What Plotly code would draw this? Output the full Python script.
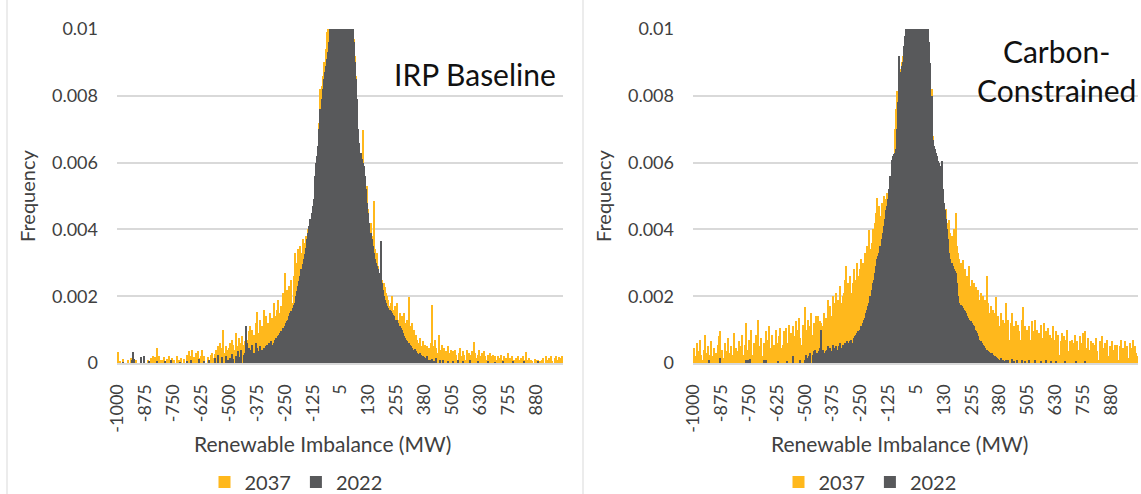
import plotly.graph_objects as go

# ---------------- data (frequency values in units of 1e-5) ----------------
# bins: -1000 ... -5 and 5 ... 1000 (5 MW steps), 400 categories
bins = [str(v) for v in range(-1000, 0, 5)] + [str(v) for v in range(5, 1001, 5)]
tick_labels = ["-1000", "-875", "-750", "-625", "-500", "-375", "-250", "-125",
               "5", "130", "255", "380", "505", "630", "755", "880"]
y_ticks = [0, 0.002, 0.004, 0.006, 0.008, 0.01]
y_ticktext = ["0", "0.002", "0.004", "0.006", "0.008", "0.01"]

irp_2037 = [
    34,0,5,0,0,12,0,0,0,8,0,0,15,0,20,0,0,10,0,0,
    0,12,0,0,18,0,0,10,0,0,15,8,22,0,18,44,12,20,10,0,
    10,0,18,0,12,0,20,0,0,15,0,10,0,22,0,8,0,14,0,0,
    12,0,25,0,35,10,20,38,0,18,30,0,36,15,0,22,38,10,20,0,
    0,18,0,10,25,30,15,28,40,20,50,35,60,25,45,99,30,50,20,40,
    45,60,35,70,55,40,90,50,30,75,60,45,80,55,65,85,50,70,95,110,
    70,100,85,60,120,154,90,75,130,95,110,160,80,140,100,120,90,150,115,135,
    180,140,120,160,190,150,130,170,210,160,269,190,220,170,230,200,250,180,260,329,
    300,280,340,320,349,330,370,360,340,380,379,400,390,420,410,440,479,520,560,600,
    629,720,819,830,860,900,880,940,990,1010,1040,1080,1120,1150,1190,1230,1280,1320,1360,1380,
    1390,1380,1360,1340,1300,1260,1220,1170,1120,1070,1030,1000,969,920,860,760,689,640,600,580,
    699,560,540,480,529,460,400,420,380,360,484,340,300,329,290,270,350,250,230,239,
    229,210,200,190,170,180,200,160,150,170,140,179,130,150,120,140,110,149,100,120,
    130,199,110,90,119,80,100,70,85,69,60,75,50,45,65,40,55,35,50,45,
    40,60,174,50,35,70,45,30,84,40,25,55,30,45,20,35,50,25,30,40,
    20,35,15,40,25,10,30,45,20,15,35,25,10,40,20,30,15,25,35,20,
    64,30,15,25,40,20,10,30,15,35,20,10,25,15,30,20,10,25,15,20,
    10,20,0,15,25,10,0,20,15,10,30,0,15,10,20,0,10,15,0,20,
    10,0,15,0,20,10,34,0,10,15,0,10,5,0,12,0,8,10,0,5,
    0,10,15,0,20,10,0,15,10,20,5,0,15,20,10,0,18,10,15,20,
]

irp_2022 = [
    0,0,0,0,0,3,0,0,0,0,0,0,0,8,34,12,0,0,0,0,
    0,18,0,0,22,0,0,0,5,0,0,0,0,0,0,6,0,0,0,0,
    0,0,0,4,0,0,0,0,10,0,0,0,0,0,0,0,3,0,0,0,
    0,0,5,0,0,0,8,0,0,0,0,0,0,12,0,0,0,0,6,0,
    0,0,9,0,0,0,0,14,0,0,25,0,0,0,18,0,0,22,0,10,
    0,15,0,28,12,0,20,0,35,10,18,40,0,25,30,110,60,20,45,30,
    40,55,30,25,60,45,20,35,50,30,40,45,35,50,55,40,60,50,65,55,
    60,70,75,65,80,85,90,95,105,100,110,120,125,130,140,150,155,165,175,180,
    200,215,230,245,260,280,295,310,325,345,370,390,410,430,450,470,490,560,600,620,
    650,700,760,790,820,850,870,890,910,930,960,1050,1100,1150,1200,1250,1300,1350,1400,1420,
    1430,1420,1400,1380,1350,1300,1250,1200,1150,1100,1050,1010,960,900,850,790,700,660,630,610,
    600,590,560,520,480,450,420,390,370,350,330,310,300,290,280,270,364,240,220,200,
    190,180,170,165,160,155,150,145,140,130,125,130,120,110,105,100,90,80,75,70,
    65,60,55,50,45,40,38,42,35,30,28,30,25,20,22,18,15,12,20,10,
    8,0,12,0,5,0,15,0,0,8,0,0,10,0,0,0,6,0,0,0,
    0,5,0,0,0,10,0,0,0,0,4,0,0,0,0,0,8,0,0,0,
    0,0,0,6,0,0,0,0,0,0,0,0,5,0,0,0,0,0,0,3,
    0,0,0,0,0,0,7,0,0,0,0,0,0,0,0,4,0,0,0,0,
    0,0,0,0,0,5,0,0,0,0,0,0,0,0,0,0,0,6,0,0,
    0,0,0,0,0,0,0,0,0,0,0,0,0,0,0,0,0,0,0,0,
]

cc_2037 = [
    45,20,10,60,15,35,70,25,8,40,85,30,12,50,25,10,65,20,45,15,
    30,10,55,80,95,20,40,15,60,35,10,75,30,5,50,25,90,20,45,30,
    35,65,15,50,85,25,55,119,40,20,70,45,100,25,60,30,85,20,129,50,
    40,75,20,60,45,95,25,70,110,45,30,85,55,20,100,60,35,80,105,45,
    55,95,35,105,60,40,115,65,90,110,45,80,125,50,100,135,75,55,115,85,
    169,100,80,130,90,110,150,85,120,95,140,105,140,90,125,120,110,150,100,135,
    130,189,150,170,140,200,160,180,209,150,190,170,230,180,200,210,250,289,220,240,
    230,260,210,240,280,250,220,300,260,250,280,310,300,270,330,290,350,320,399,340,
    360,400,380,420,450,494,430,470,440,480,450,500,460,490,510,480,519,560,590,600,
    620,700,760,814,800,850,880,900,920,950,980,1050,1100,1150,1200,1250,1300,1350,1400,1420,
    1430,1420,1400,1380,1350,1300,1250,1200,1150,1100,1050,1010,960,880,820,680,649,620,600,580,
    560,540,520,480,509,470,440,460,420,400,429,390,380,360,400,370,449,350,330,310,
    300,290,309,270,280,250,260,240,289,230,250,220,240,210,229,200,220,190,210,180,
    200,170,190,160,259,180,150,170,140,160,130,150,199,120,140,110,150,120,130,100,
    120,179,80,130,70,120,150,60,110,85,125,55,115,95,70,130,169,65,110,80,
    100,55,110,70,125,45,95,129,60,100,40,90,115,55,75,120,50,95,60,105,
    85,40,75,110,30,70,95,35,85,25,65,90,40,80,20,70,100,35,65,45,
    70,25,60,85,20,65,40,80,15,60,90,30,95,45,20,75,40,65,15,60,
    55,15,75,35,10,65,30,80,45,10,60,25,70,20,50,15,65,40,20,55,
    35,55,10,50,70,20,45,10,65,30,50,15,60,25,45,70,15,50,30,20,
]

cc_2022 = [
    0,0,0,0,0,0,0,0,0,0,0,0,0,0,10,0,0,0,0,0,
    0,0,0,0,15,0,0,0,0,0,0,0,0,0,0,0,0,0,0,0,
    0,0,0,0,0,0,0,10,0,8,0,12,0,0,0,0,0,0,0,0,
    0,0,0,8,0,10,0,0,0,0,0,0,0,0,0,0,6,0,0,0,
    0,0,0,0,5,0,0,0,0,20,0,0,0,0,0,0,8,0,0,0,
    10,25,0,15,20,30,0,25,35,40,20,30,15,35,45,100,40,30,25,35,
    40,50,30,45,35,55,25,45,50,40,35,50,60,45,55,50,60,55,65,60,
    55,65,70,60,75,80,85,90,95,90,100,110,120,130,135,150,160,170,180,200,
    220,239,250,270,290,310,320,329,350,370,390,410,430,459,470,490,520,560,609,620,
    625,630,640,700,780,919,870,889,900,950,980,1050,1100,1150,1200,1250,1300,1350,1400,1420,
    1430,1420,1400,1380,1350,1300,1250,1200,1150,1100,1050,1010,960,899,800,669,650,640,630,620,
    604,600,590,604,520,480,459,430,400,370,329,310,300,290,280,275,269,240,200,179,
    175,170,165,160,155,150,140,135,129,125,120,115,110,100,95,90,80,69,65,60,
    55,50,45,40,38,35,32,30,29,25,22,20,18,15,12,10,15,8,10,5,
    0,10,0,8,0,0,12,0,5,0,0,10,0,0,0,8,0,0,6,0,
    0,0,8,0,0,0,0,10,0,0,0,0,6,0,0,0,0,8,0,0,
    0,5,0,0,0,0,7,0,0,0,0,0,0,0,5,0,0,0,0,0,
    0,0,0,0,6,0,0,0,0,0,0,0,4,0,0,0,0,0,0,0,
    0,0,0,0,0,0,0,0,0,0,0,0,0,0,0,0,0,0,0,0,
    0,0,0,0,0,0,0,0,0,0,0,0,0,0,0,0,0,0,0,0,
]

for s in (irp_2037, irp_2022, cc_2037, cc_2022):
    assert len(s) == len(bins), len(s)

# ---------------- figure ----------------
W, H = 1141, 494
def px(x): return x / W
def py(y): return 1 - y / H

FONT = "Lato, 'Open Sans', sans-serif"
ORANGE = "#FFB81C"
GREY = "#58595B"
TXT = "#404040"

fig = go.Figure()
panels = [("x", "y", "legend", irp_2037, irp_2022),
          ("x2", "y2", "legend2", cc_2037, cc_2022)]
for xa, ya, lg, s37, s22 in panels:
    fig.add_trace(go.Bar(x=bins, y=[v / 1e5 for v in s37], name="2037",
                         marker=dict(color=ORANGE, line=dict(width=0)),
                         xaxis=xa, yaxis=ya, legend=lg))
    fig.add_trace(go.Bar(x=bins, y=[v / 1e5 for v in s22], name="2022",
                         marker=dict(color=GREY, line=dict(width=0)),
                         xaxis=xa, yaxis=ya, legend=lg))

xcommon = dict(type="category", range=[-0.5, len(bins) - 0.5],
               tickmode="array", tickvals=tick_labels, ticktext=tick_labels,
               tickangle=-90, tickfont=dict(family=FONT, size=18, color=TXT),
               showgrid=False, showline=True, linecolor="#D9D9D9", linewidth=2,
               ticks="", ticklabelstandoff=12, zeroline=False, automargin=False,
               fixedrange=True)
ycommon = dict(range=[0, 0.01], tickmode="array", tickvals=y_ticks, ticktext=y_ticktext,
               tickfont=dict(family=FONT, size=18, color=TXT),
               showgrid=True, gridcolor="#D9D9D9", gridwidth=1.5,
               showline=False, zeroline=False, ticks="", ticklabelstandoff=18,
               automargin=False, fixedrange=True)

legcommon = dict(orientation="h", xref="container", yref="container",
                 xanchor="center", y=py(482), yanchor="middle",
                 font=dict(family=FONT, size=20, color=TXT), bgcolor="rgba(0,0,0,0)",
                 itemwidth=30)

ydom = [py(363), py(29)]
fig.update_layout(
    width=W, height=H, autosize=False,
    margin=dict(l=0, r=0, t=0, b=0, autoexpand=False),
    paper_bgcolor="white", plot_bgcolor="white",
    barmode="overlay", bargap=0,
    font=dict(family=FONT, color=TXT),
    xaxis=dict(domain=[px(117), px(563)], anchor="y", **xcommon),
    yaxis=dict(domain=ydom, anchor="x", **ycommon),
    xaxis2=dict(domain=[px(693), px(1138)], anchor="y2", **xcommon),
    yaxis2=dict(domain=ydom, anchor="x2", **ycommon),
    legend=dict(x=px(296), **legcommon),
    legend2=dict(x=px(870), **legcommon),
    showlegend=True,
)

ann = [
    dict(text="Frequency", x=px(27), y=py(196), textangle=-90, font=dict(size=20, color=TXT)),
    dict(text="Frequency", x=px(603), y=py(196), textangle=-90, font=dict(size=20, color=TXT)),
    dict(text="Renewable Imbalance (MW)", x=px(322), y=py(443), font=dict(size=21, color=TXT)),
    dict(text="Renewable Imbalance (MW)", x=px(899), y=py(443), font=dict(size=21, color=TXT)),
    dict(text="IRP Baseline", x=px(558), xanchor="right", y=py(74), font=dict(size=30, color="#111111")),
    dict(text="Carbon-<br>Constrained", x=px(1056), y=py(70), align="center",
         font=dict(size=30, color="#111111")),
]
for a in ann:
    a.setdefault("xanchor", "center")
    a.update(xref="paper", yref="paper", yanchor="middle", showarrow=False)
    a["font"]["family"] = FONT
    fig.add_annotation(**a)

for xb in (7, 583):
    fig.add_shape(type="line", xref="paper", yref="paper", x0=px(xb), x1=px(xb), y0=0, y1=1,
                  line=dict(color="#D9D9D9", width=1))

page_css = ("var s=document.createElement('style');"
            "s.innerHTML='html,body{margin:0;padding:0;overflow:hidden;}';"
            "document.head.appendChild(s);")
fig.write_html("out.html", config={"displayModeBar": False}, post_script=page_css)
